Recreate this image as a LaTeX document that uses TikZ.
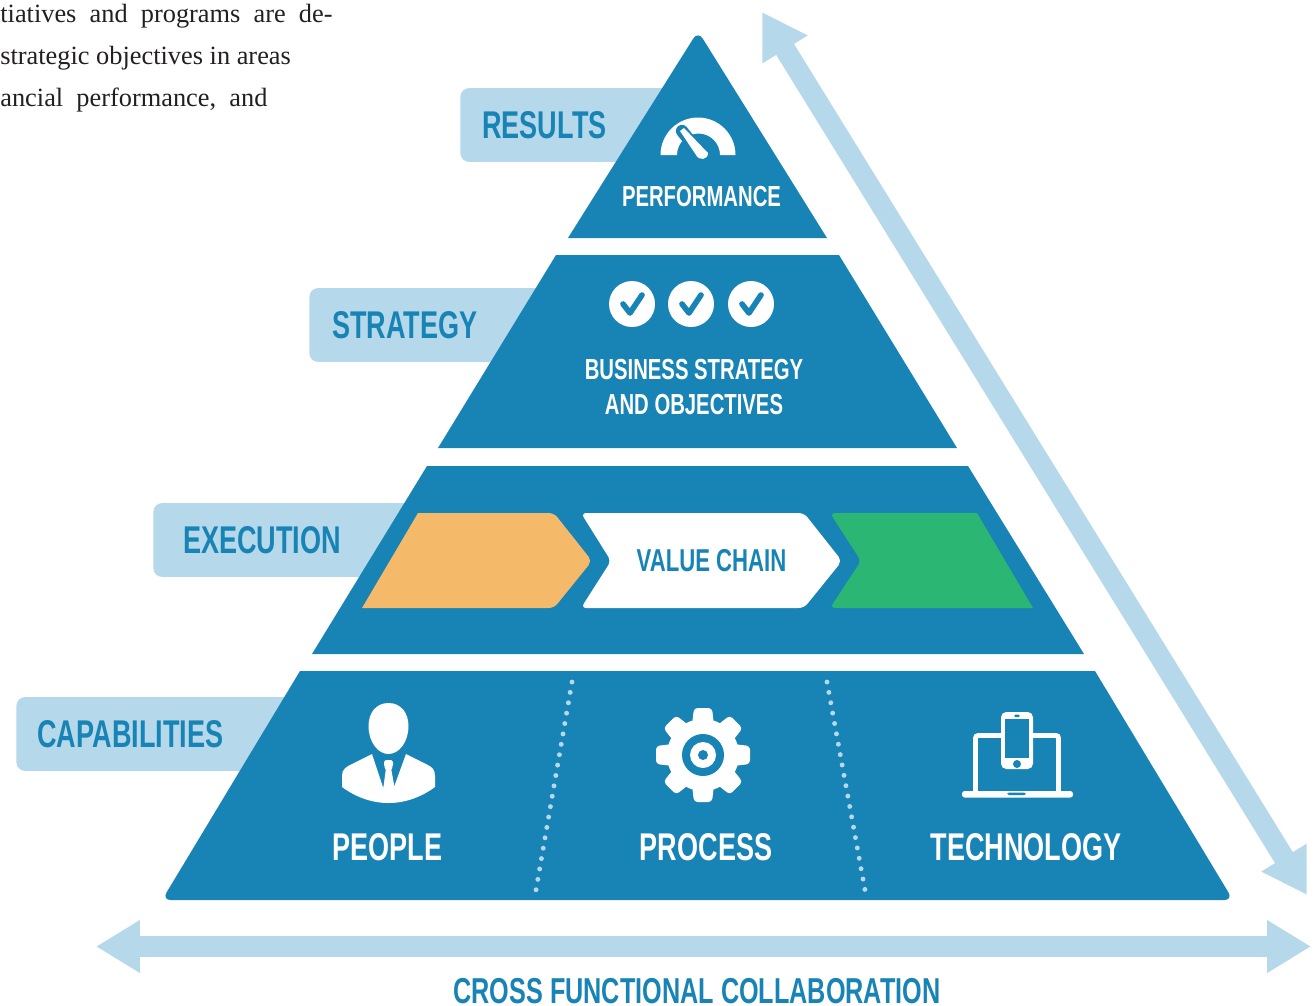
\documentclass[tikz,border=0pt]{standalone}
\usepackage{fontspec}
\setmainfont{Liberation Serif}
\newfontfamily\capsfont[FakeStretch=0.7]{Liberation Sans Bold}
\usetikzlibrary{arrows.meta, positioning}
\definecolor{pyrblue}{HTML}{1883B5}
\definecolor{paleblue}{HTML}{B5D8EA}
\definecolor{chainorange}{HTML}{F4BA6A}
\definecolor{chaingreen}{HTML}{2BB673}
\definecolor{bodyink}{HTML}{231F20}

\begin{document}
\begin{tikzpicture}[x=0.02cm, y=-0.02cm,
        band/.style={fill=pyrblue},
        tag/.style={fill=paleblue, text=pyrblue, rounded corners=5pt, anchor=west, minimum height=42pt,
            inner xsep=0pt, inner ysep=0pt, align=left, font=\capsfont\fontsize{22}{24}\selectfont},
        caption/.style={text=white, align=center, inner sep=0pt, font=\capsfont\fontsize{16.5}{20.4}\selectfont},
        bigcaption/.style={text=white, inner sep=0pt, font=\capsfont\fontsize{22}{24}\selectfont},
        bodytext/.style={text=bodyink, anchor=base west, inner sep=0pt, font=\fontsize{15}{18}\selectfont},
        bigarrow/.style={draw=paleblue, line width=11.9pt, {Triangle[length=25pt,width=28.3pt]}-{Triangle[length=25pt,width=28.3pt]}},
        divider/.style={draw=paleblue, line width=2.8pt, line cap=round, dash pattern=on 0pt off 6pt},
        chain/.style={rounded corners=3pt}
    ]
    \useasboundingbox (0,0) rectangle (1316,1005);

    % text at the top left
    \node [bodytext] (line1) at (0,22) {tiatives\ \ and\ \ programs\ \ are\ \ de-};
    \node [bodytext] (line2) at (0,64) {strategic objectives in areas};
    \node [bodytext] (line3) at (0,106) {ancial\ \ performance,\ \ and};

    % tags behind the pyramid
    \node [tag, text width=124.7pt, text depth=0pt] (results) at (460,125) {\hspace{12.5pt}RESULTS};
    \node [tag, text width=141.7pt] (strategy) at (309,325) {\hspace{13pt}STRATEGY};
    \node [tag, text width=157pt] (execution) at (153,540) {\hspace{17pt}EXECUTION};
    \node [tag, text width=164pt] (capabilities) at (16,734) {\hspace{12pt}CAPABILITIES};

    % pyramid
    \fill [band] (568,238) [rounded corners=5pt] -- (698,31) [sharp corners] -- (827,238) -- cycle;
    \fill [band] (556,255) -- (839,255) -- (957,448) -- (438,448) -- cycle;
    \fill [band] (427,466) -- (968,466) -- (1084,654) -- (312,654) -- cycle;
    \fill [band] (300,671) -- (1095,671) [rounded corners=5pt] -- (1233,900) -- (162,900) [sharp corners] -- cycle;

    % gauge
    \fill [white] (660.5,155) arc [start angle=180, end angle=360, radius=37.5]
        -- (720,155) arc [start angle=360, end angle=180, radius=21.5] -- cycle;
    \draw [pyrblue, line width=7pt, line cap=round] (682,131) -- (702,156);
    \fill [white] (680,131) -- (684,128) -- (708,153) .. controls (708,160) and (699,161) .. (696,155) -- cycle;
    \node [caption] (performance) at (701.5,197) {PERFORMANCE};

    % checks
    \foreach \cx in {632,691,751} {
        \fill [white] (\cx,304) circle (23);
        \draw [pyrblue, line width=3.2pt, line cap=round, line join=round] (\cx-9,304) -- (\cx-2,313) -- (\cx+10,295);
    }
    \node [caption] (objectives) at (694,387) {BUSINESS STRATEGY\\AND OBJECTIVES};

    % value chain
    \fill [chainorange] (418,513) [chain] -- (554,513) -- (592,561) -- (554,608) [sharp corners] -- (362,608) -- cycle;
    \fill [white, chain] (581,513) -- (804,513) -- (842,561) -- (804,608) -- (581,608) -- (611,561) -- cycle;
    \fill [chaingreen] (977,513) -- (1033,608) [chain] -- (830,608) -- (861,561) -- (830,513) [sharp corners] -- cycle;
    \node [text=pyrblue, inner sep=0pt, font=\capsfont\fontsize{18}{20}\selectfont] (valuechain) at (711.5,561) {VALUE CHAIN};

    % person
    \fill [white] (388.5,703) .. controls (401,703) and (408.5,713) .. (408.5,726)
        .. controls (408.5,742) and (399,754) .. (388.5,754)
        .. controls (378,754) and (368.5,742) .. (368.5,726)
        .. controls (368.5,713) and (376,703) .. (388.5,703) -- cycle;
    \fill [white] (342,787) -- (342,776) .. controls (342,769) and (346,767) .. (352,764) -- (372,754) -- (383,787)
        -- (394,787) -- (406,754) -- (426,764) .. controls (432,767) and (435,769) .. (435,776) -- (435,787)
        .. controls (420,798) and (404,803) .. (388.5,803) .. controls (373,803) and (357,798) .. (342,787) -- cycle;
    \fill [white, rounded corners=1pt] (384,760) -- (393,760) -- (393,767) -- (391,768) -- (395,790) -- (383,790) -- (386,768) -- (384,767) -- cycle;
    \node [bigcaption] (people) at (387.5,847) {PEOPLE};

    % gear
    \fill [white] (703,755) circle (36);
    \foreach \ang in {0,45,...,315} {
        \fill [white, shift={(703,755)}, rotate=\ang, rounded corners=2pt] (-9,-47) -- (9,-47) -- (11,-30) -- (-11,-30) -- cycle;
    }
    \fill [pyrblue] (703,755) circle (21);
    \fill [white] (703,755) circle (13);
    \fill [pyrblue] (703,755) circle (5);
    \node [bigcaption] (process) at (706,847) {PROCESS};

    % laptop and phone
    \draw [white, line width=2.8pt, rounded corners=1.5pt] (975.5,792) -- (975.5,735.5) -- (1058.5,735.5) -- (1058.5,792);
    \fill [white, rounded corners=1.5pt] (962,791) rectangle (1073,797.5);
    \fill [pyrblue, rounded corners=1pt] (1007,792.5) rectangle (1026,795);
    \fill [white, rounded corners=3pt] (1001,712) rectangle (1033,769);
    \fill [pyrblue] (1005,719) rectangle (1029,758);
    \fill [pyrblue, rounded corners=0.8pt] (1014,714.7) rectangle (1020,717);
    \fill [pyrblue] (1017,764) circle (4);
    \node [bigcaption] (technology) at (1026,847) {TECHNOLOGY};

    % dotted dividers
    \coordinate (d1a) at (572,682);
    \coordinate (d1b) at (536,890);
    \coordinate (d2a) at (827,682);
    \coordinate (d2b) at (865,890);
    \draw [divider] (d1a) -- (d1b);
    \draw [divider] (d2a) -- (d2b);

    % big arrows
    \coordinate (diagtop) at (762,12);
    \coordinate (diagbot) at (1307,895);
    \coordinate (horleft) at (96,946.5);
    \coordinate (horright) at (1311,946.5);
    \draw [bigarrow] (diagtop) -- (diagbot);
    \draw [bigarrow] (horleft) -- (horright);
    \node [text=pyrblue, inner sep=0pt, font=\capsfont\fontsize{20.5}{22}\selectfont] (collab) at (697,991) {CROSS FUNCTIONAL COLLABORATION};
\end{tikzpicture}
\end{document}
